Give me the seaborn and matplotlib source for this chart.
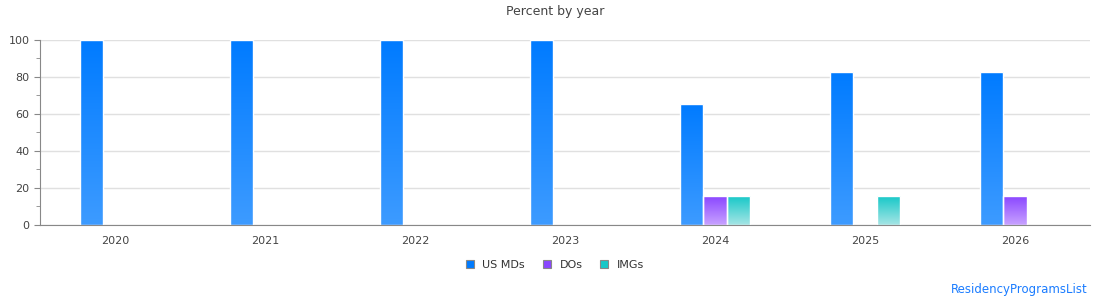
import numpy as np
import pandas as pd
import matplotlib.pyplot as plt
import seaborn as sns
from matplotlib.colors import LinearSegmentedColormap
from matplotlib.patches import Patch
from matplotlib.ticker import MultipleLocator

years = ["2020", "2021", "2022", "2023", "2024", "2025", "2026"]
us_mds = [100, 100, 100, 100, 65.6, 82.8, 82.8]
dos = [0, 0, 0, 0, 15.6, 0, 15.6]
imgs = [0, 0, 0, 0, 15.6, 15.6, 0]

groups = ["US MDs", "DOs", "IMGs"]
top_colors = ["#007bff", "#8a46ff", "#17c8c8"]
bottom_colors = ["#3d9bff", "#c8a2ff", "#a6e5e5"]

df = pd.DataFrame({"year": years * 3,
                   "group": np.repeat(groups, len(years)),
                   "pct": us_mds + dos + imgs})

fig = plt.figure(figsize=(11.1, 3.0), dpi=100)
ax = fig.add_axes([0.036, 0.25, 0.946, 0.6167])

sns.barplot(data=df, x="year", y="pct", hue="group", hue_order=groups,
            palette=top_colors, width=0.47, gap=0, ax=ax, legend=False,
            edgecolor="white", linewidth=1, zorder=2)

# gradient fill for each bar
for cont, c_top, c_bot in zip(ax.containers, top_colors, bottom_colors):
    cmap = LinearSegmentedColormap.from_list("g", [c_bot, c_top])
    grad = np.linspace(0, 1, 256).reshape(-1, 1)
    for bar in cont:
        h = bar.get_height()
        if h <= 0:
            bar.set_visible(False)
            continue
        x0 = bar.get_x()
        w = bar.get_width()
        bar.set_facecolor("none")
        im = ax.imshow(grad, cmap=cmap, origin="lower", aspect="auto",
                       extent=[x0, x0 + w, 0, h], zorder=1.9)
        im.set_clip_path(bar)

ax.set_xlim(-0.5, 6.5)
ax.set_ylim(0, 100)
ax.yaxis.set_major_locator(MultipleLocator(20))
ax.yaxis.set_minor_locator(MultipleLocator(10))
ax.grid(axis="y", color="#e0e0e0", linewidth=1, zorder=0)
ax.set_axisbelow(True)
for s in ["top", "right"]:
    ax.spines[s].set_visible(False)
for s in ["left", "bottom"]:
    ax.spines[s].set_color("#888888")
ax.tick_params(axis="y", which="both", color="#888888", labelsize=8,
               labelcolor="#444444", length=4)
ax.tick_params(axis="y", which="minor", length=3)
ax.tick_params(axis="x", length=0, labelsize=8, labelcolor="#444444", pad=8)
ax.set_xlabel("")
ax.set_ylabel("")

fig.suptitle("Percent by year", y=0.985, fontsize=9, color="#444444")

handles = [Patch(facecolor=c, edgecolor="#888888", linewidth=0.8) for c in top_colors]
fig.legend(handles, groups, loc="center", bbox_to_anchor=(0.5, 0.117), ncol=3,
           frameon=False, fontsize=8, handlelength=0.7, handleheight=0.7,
           columnspacing=1.6, handletextpad=0.8, labelcolor="#333333")

fig.text(0.98, 0.035, "ResidencyProgramsList", ha="right", va="center",
         fontsize=8.5, color="#1a7cff")

fig.savefig("out.png", dpi=100)
